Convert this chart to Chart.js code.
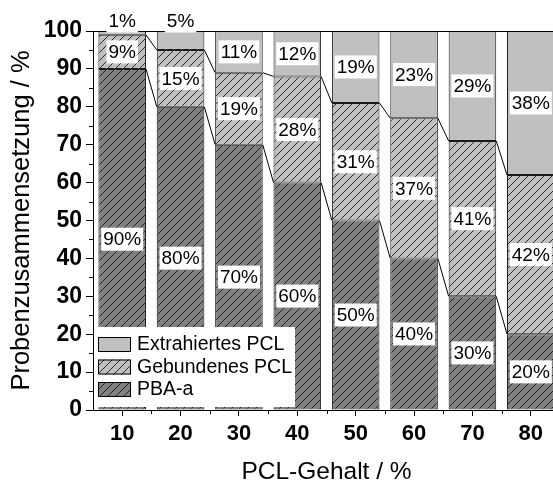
<!DOCTYPE html>
<html>
<head>
<meta charset="utf-8">
<style>
  html, body { margin: 0; padding: 0; background: #fff; overflow: hidden; }
</style>
</head>
<body>
<canvas id="composition-chart" width="571" height="481" style="width:571px;height:481px"></canvas>
<script src="https://cdn.jsdelivr.net/npm/chart.js"></script>
<script>
  // Sample composition per PCL content (percent of total mass)
  const categories = ["10", "20", "30", "40", "50", "60", "70", "80"];
  const pbaA = [90, 80, 70, 60, 50, 40, 30, 20];
  const gebundenesPCL = [9, 15, 19, 28, 31, 37, 41, 42];
  const extrahiertesPCL = [1, 5, 11, 12, 19, 23, 29, 38];
  const seriesNames = ["PBA-a", "Gebundenes PCL", "Extrahiertes PCL"];

  const DARK = "#808080";
  const LIGHT = "#c0c0c0";

  // diagonal "///" fill
  function hatch(bg) {
    const size = 8;
    const c = document.createElement("canvas");
    c.width = size; c.height = size;
    const g = c.getContext("2d");
    g.fillStyle = bg;
    g.fillRect(0, 0, size, size);
    g.strokeStyle = "#1a1a1a";
    g.lineWidth = 0.9;
    g.beginPath();
    g.moveTo(0, size); g.lineTo(size, 0);
    g.moveTo(-1, 1); g.lineTo(1, -1);
    g.moveTo(size - 1, size + 1); g.lineTo(size + 1, size - 1);
    g.stroke();
    return g.createPattern(c, "repeat");
  }

  const fills = [hatch(DARK), hatch(LIGHT), LIGHT];

  const overlay = {
    id: "overlay",
    afterDatasetsDraw(chart) {
      const ctx = chart.ctx;
      const area = chart.chartArea;
      const xs = chart.scales.x, ys = chart.scales.y;
      ctx.save();
      ctx.strokeStyle = "#000";
      ctx.lineWidth = 1;

      // top frame
      ctx.beginPath();
      ctx.moveTo(area.left, area.top + 0.5);
      ctx.lineTo(area.right, area.top + 0.5);
      ctx.stroke();

      // connectors between neighbouring stacks
      [0, 1].forEach(d => {
        const bars = chart.getDatasetMeta(d).data;
        ctx.beginPath();
        for (let i = 0; i < bars.length - 1; i++) {
          const a = bars[i], b = bars[i + 1];
          ctx.moveTo(a.x + a.width / 2, a.y);
          ctx.lineTo(b.x - b.width / 2, b.y);
        }
        ctx.stroke();
      });

      // minor ticks
      ctx.beginPath();
      for (let v = 5; v < 100; v += 10) {
        const py = Math.round(ys.getPixelForValue(v)) + 0.5;
        ctx.moveTo(area.left - 4, py);
        ctx.lineTo(area.left, py);
      }
      for (let i = 0; i < categories.length - 1; i++) {
        const px = Math.round((xs.getPixelForValue(i) + xs.getPixelForValue(i + 1)) / 2) + 0.5;
        ctx.moveTo(px, area.bottom);
        ctx.lineTo(px, area.bottom + 4);
      }
      ctx.stroke();

      // value labels
      ctx.font = "19px Arial, 'Liberation Sans', sans-serif";
      ctx.textAlign = "center";
      ctx.textBaseline = "middle";
      chart.data.datasets.forEach((ds, d) => {
        chart.getDatasetMeta(d).data.forEach((bar, i) => {
          const v = ds.data[i];
          const text = v + "%";
          let cy = (bar.y + bar.base) / 2;
          if (v <= 5) cy = area.top - 10;
          const w = ctx.measureText(text).width + 4;
          ctx.fillStyle = "#fff";
          ctx.fillRect(bar.x - w / 2, cy - 11.5, w, 23);
          ctx.fillStyle = "#000";
          ctx.fillText(text, bar.x, cy + 1);
        });
      });

      // legend
      const lx = area.left + 1, ly = 327;
      ctx.fillStyle = "#fff";
      ctx.fillRect(lx, ly, 201, 80);
      ctx.font = "19.5px Arial, 'Liberation Sans', sans-serif";
      ctx.textAlign = "left";
      [2, 1, 0].forEach((d, row) => {
        const sy = 337 + row * 22.5;
        ctx.fillStyle = fills[d];
        ctx.fillRect(98, sy, 33, 15);
        ctx.strokeRect(98.5, sy + 0.5, 32, 14);
        ctx.fillStyle = "#000";
        ctx.fillText(seriesNames[d], 137, sy + 8);
      });

      ctx.restore();
    }
  };

  Chart.defaults.font.family = "Arial, 'Liberation Sans', sans-serif";
  Chart.defaults.color = "#000";

  const ctx = document.getElementById("composition-chart").getContext("2d");
  const compositionChart = new Chart(ctx, {
    type: "bar",
    data: {
      labels: categories,
      datasets: [
        { label: seriesNames[0], data: pbaA, backgroundColor: fills[0] },
        { label: seriesNames[1], data: gebundenesPCL, backgroundColor: fills[1] },
        { label: seriesNames[2], data: extrahiertesPCL, backgroundColor: fills[2] },
      ].map(ds => Object.assign(ds, {
        borderColor: "#1a1a1a",
        borderWidth: 1,
        borderSkipped: false,
        categoryPercentage: 1,
        barPercentage: 0.815,
      })),
    },
    options: {
      responsive: false,
      animation: false,
      layout: { padding: { top: 31, right: 11, left: 0, bottom: 0 } },
      plugins: { legend: { display: false }, tooltip: { enabled: false } },
      scales: {
        x: {
          stacked: true,
          grid: { drawOnChartArea: false, offset: false, color: "#000", tickLength: 6 },
          border: { color: "#000", width: 1 },
          ticks: { font: { size: 22, weight: "bold" }, maxRotation: 0, padding: 5 },
          title: {
            display: true,
            text: "PCL-Gehalt / %",
            font: { size: 24.5, lineHeight: 1 },
            padding: { top: 0, bottom: -3 },
          },
          afterFit(scale) { scale.height = 71; },
        },
        y: {
          stacked: true,
          min: 0,
          max: 100,
          grid: { drawOnChartArea: false, color: "#000", tickLength: 7 },
          border: { color: "#000", width: 1 },
          ticks: { stepSize: 10, font: { size: 23, weight: "bold" }, padding: 4 },
          title: {
            display: true,
            text: "Probenzusammensetzung / %",
            font: { size: 25.5, lineHeight: 1 },
            padding: { top: 9, bottom: 0 },
          },
          afterFit(scale) { scale.width = 93; },
        },
      },
    },
    plugins: [overlay],
  });
</script>
</body>
</html>
